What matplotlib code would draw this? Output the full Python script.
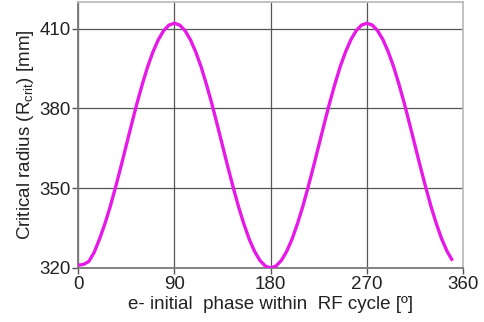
import matplotlib
matplotlib.use("Agg")
import matplotlib.pyplot as plt

plt.rcParams['font.family'] = ['Liberation Sans', 'DejaVu Sans']
plt.rcParams['mathtext.fontset'] = 'custom'
plt.rcParams['mathtext.rm'] = 'Liberation Sans'
plt.rcParams['mathtext.it'] = 'Liberation Sans:italic'

# electron initial phase [deg] and critical radius [mm]
phase = [0, 5, 10, 15, 20, 25, 30, 35, 40, 45, 50, 55, 60, 65, 70, 75, 80, 85,
         90, 95, 100, 105, 110, 115, 120, 125, 130, 135, 140, 145, 150, 155, 160, 165, 170, 175,
         180, 185, 190, 195, 200, 205, 210, 215, 220, 225, 230, 235, 240, 245, 250, 255, 260, 265,
         270, 275, 280, 285, 290, 295, 300, 305, 310, 315, 320, 325, 330, 335, 340, 345, 350]
r_crit = [321.0, 321.3, 322.4, 325.8, 330.8, 336.5, 343.0, 350.3, 358.0, 366.0, 374.0, 381.8, 389.0, 395.6, 401.2, 405.8, 409.2, 411.3,
          412.0, 411.3, 409.2, 405.8, 401.2, 395.6, 389.0, 381.8, 374.0, 366.0, 358.0, 350.3, 343.0, 336.5, 330.8, 326.2, 322.8, 320.7,
          320.0, 320.7, 322.8, 326.2, 330.8, 336.5, 343.0, 350.3, 358.0, 366.0, 374.0, 381.8, 389.0, 395.6, 401.2, 405.8, 409.2, 411.3,
          412.0, 411.3, 409.2, 405.8, 401.2, 395.6, 389.0, 381.8, 374.0, 366.0, 358.0, 350.3, 343.0, 336.5, 330.8, 326.2, 322.7]

x_ticks = [0, 90, 180, 270, 360]
y_ticks = [320, 350, 380, 410]

fig = plt.figure(figsize=(4.85, 3.22), dpi=100)
ax = fig.add_axes([0.161, 0.168, 0.794, 0.826])

ax.plot(phase, r_crit, color='#e619e6', lw=2.4, solid_capstyle='butt', zorder=3)

ax.set_xlim(0, 360)
ax.set_ylim(320, 420)
ax.set_xticks(x_ticks)
ax.set_yticks(y_ticks)
ax.grid(True, color='#555555', lw=0.9)
ax.set_axisbelow(True)

for side in ('left', 'bottom'):
    ax.spines[side].set_color('#7a7a7a')
    ax.spines[side].set_linewidth(1.3)
for side in ('top', 'right'):
    ax.spines[side].set_color('#bdbdbd')
    ax.spines[side].set_linewidth(1.3)

ax.tick_params(axis='both', direction='out', length=4, width=1, color='#555555',
               labelsize=13.5, labelcolor='#222222')
ax.tick_params(axis='x', pad=2)
ax.tick_params(axis='y', pad=1)

ax.set_xlabel('e- initial  phase within  RF cycle [º]', fontsize=13.5, color='#222222', labelpad=2)
ax.set_ylabel(r'Critical radius (R$_{\mathrm{crit}}$) [mm]', fontsize=13.5, color='#222222', labelpad=3)

fig.savefig('out.png', dpi=100)
